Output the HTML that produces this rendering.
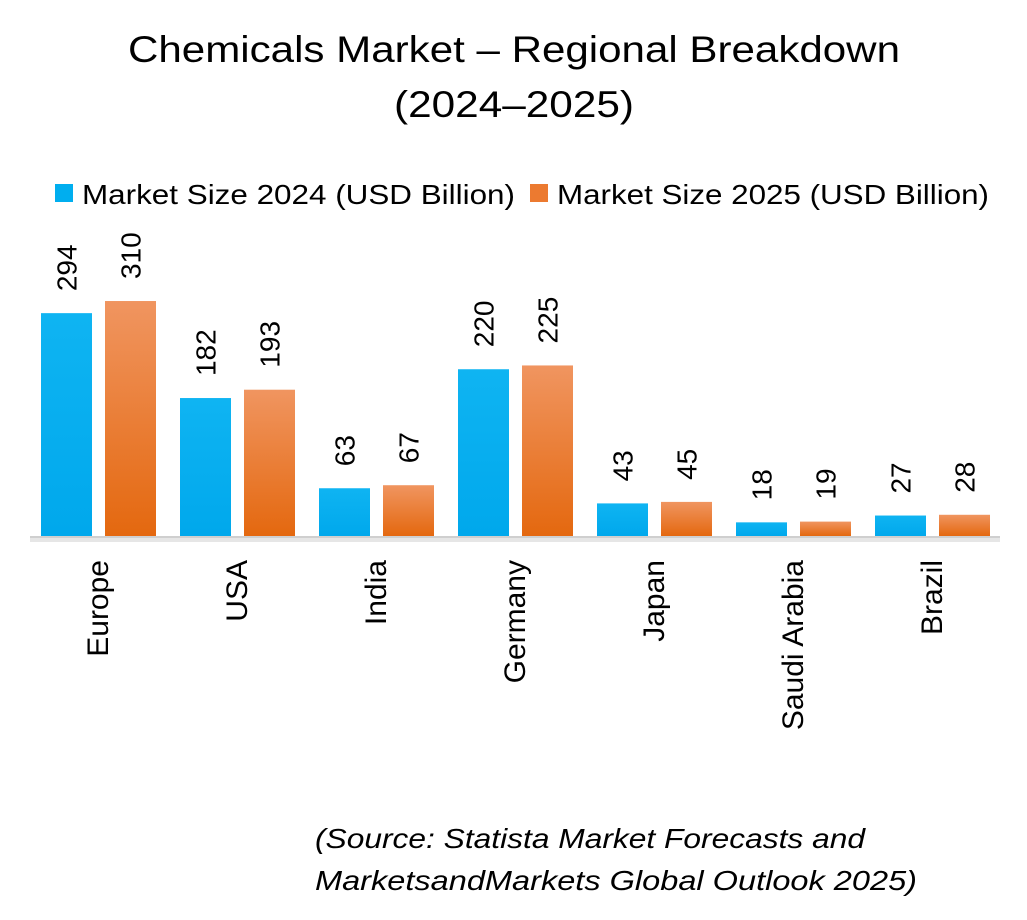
<!DOCTYPE html>
<html><head><meta charset="utf-8"><style>
body{margin:0;background:#fff;}
svg text{font-family:"Liberation Sans",sans-serif;fill:#000;}
</style></head><body>
<svg width="1027" height="915" viewBox="0 0 1027 915">
<defs>
<linearGradient id="og" x1="0" y1="0" x2="0" y2="1"><stop offset="0" stop-color="#F09560"/><stop offset="1" stop-color="#E4680F"/></linearGradient>
<linearGradient id="bg" x1="0" y1="0" x2="0" y2="1"><stop offset="0" stop-color="#0FB4F2"/><stop offset="1" stop-color="#00A8EC"/></linearGradient>
</defs>
<text x="128" y="62" font-size="37" textLength="772" lengthAdjust="spacingAndGlyphs">Chemicals Market – Regional Breakdown</text>
<text x="394" y="117" font-size="37" textLength="240" lengthAdjust="spacingAndGlyphs">(2024–2025)</text>
<g>
<rect x="55" y="184" width="18" height="18" fill="#00AEEF"/>
<text x="82" y="204" font-size="28" textLength="433" lengthAdjust="spacingAndGlyphs">Market Size 2024 (USD Billion)</text>
<rect x="530" y="184" width="18" height="18" fill="#EC7A30"/>
<text x="557" y="204" font-size="28" textLength="432" lengthAdjust="spacingAndGlyphs">Market Size 2025 (USD Billion)</text>
</g>
<line x1="30" y1="540" x2="1000" y2="540" stroke="#e6e6e6" stroke-width="4"/>
<line x1="30" y1="537" x2="1000" y2="537" stroke="#bfbfbf" stroke-width="1.5"/>
<g id="bars"></g>
<text x="315" y="848" font-size="28" font-style="italic" textLength="550" lengthAdjust="spacingAndGlyphs">(Source: Statista Market Forecasts and</text>
<text x="315" y="890" font-size="28" font-style="italic" textLength="602" lengthAdjust="spacingAndGlyphs">MarketsandMarkets Global Outlook 2025)</text>
</svg>
<script>
const categories=["Europe","USA","India","Germany","Japan","Saudi Arabia","Brazil"];
const values2024=[294,182,63,220,43,18,27];
const values2025=[310,193,67,225,45,19,28];
const NS="http://www.w3.org/2000/svg";
const g=document.getElementById('bars');
const baseY=536, scale=0.758, x0=41, step=139, bw=51, off=64;
function y(v){return baseY-v*scale;}
function gx(i){return x0+i*step;}
function add(tag,attrs){const e=document.createElementNS(NS,tag);for(const k in attrs)e.setAttribute(k,attrs[k]);g.appendChild(e);return e;}
categories.forEach((c,i)=>{
  [[values2024,'url(#bg)',0,'2024'],[values2025,'url(#og)',off,'2025']].forEach(([arr,fill,o,s])=>{
    const v=arr[i],x=gx(i)+o;
    const r=add('rect',{x:x,y:y(v),width:bw,height:baseY-y(v),fill:fill});
    
    
    const cx=x+bw/2+10, ty=y(v)-22;
    const t=add('text',{x:cx,y:ty,'font-size':28,transform:`rotate(-90 ${cx} ${ty})`});
    t.textContent=v;
    
    
  });
  const lx=gx(i)+57+10, ly=560;
  const t=add('text',{x:lx,y:ly,'font-size':30,'text-anchor':'end',transform:`rotate(-90 ${lx} ${ly})`});
  t.textContent=c;
  
  
});
</script>
</body></html>
